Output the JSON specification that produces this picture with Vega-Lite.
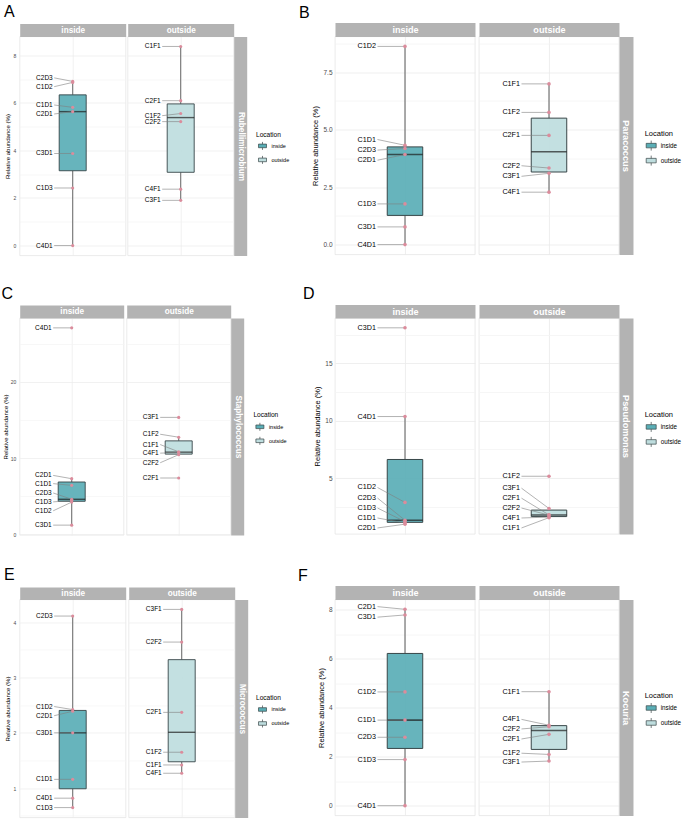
{
"$schema":"https://vega.github.io/schema/vega-lite/v6.json",
"background":"white",
"padding":{"left":0.7,"top":3.5,"right":0,"bottom":0},
"config":{
 "font":"Liberation Sans",
 "view":{"stroke":"#DDDDDD","strokeWidth":0.6},
 "axis":{"labelColor":"#4D4D4D","titleColor":"#000000","titleFontWeight":"normal","ticks":false,"domain":false},
 "legend":{"orient":"none","padding":0,"titleFontWeight":"normal","titleColor":"#000000","labelColor":"#000000","symbolStrokeColor":"#3A4648","symbolStrokeWidth":0.7,"symbolOpacity":1},
 "title":{"font":"Liberation Sans","color":"#000000","fontWeight":"normal","anchor":"start","frame":"group","baseline":"alphabetic","fontSize":16,"offset":4.5}
},
"datasets":{
 "A":[
  {"loc":"inside","s":"C2D3","v":6.90,"ly":7.05},
  {"loc":"inside","s":"C1D2","v":6.86,"ly":6.68},
  {"loc":"inside","s":"C1D1","v":5.81,"ly":5.91},
  {"loc":"inside","s":"C2D1","v":5.63,"ly":5.53},
  {"loc":"inside","s":"C3D1","v":3.87,"ly":3.87},
  {"loc":"inside","s":"C1D3","v":2.42,"ly":2.42},
  {"loc":"inside","s":"C4D1","v":0.0,"ly":0.0},
  {"loc":"outside","s":"C1F1","v":8.37,"ly":8.37},
  {"loc":"outside","s":"C2F1","v":6.09,"ly":6.09},
  {"loc":"outside","s":"C1F2","v":5.55,"ly":5.46},
  {"loc":"outside","s":"C2F2","v":5.21,"ly":5.21},
  {"loc":"outside","s":"C4F1","v":2.37,"ly":2.37},
  {"loc":"outside","s":"C3F1","v":1.90,"ly":1.90}
 ],
 "B":[
  {"loc":"inside","s":"C1D2","v":8.62,"ly":8.62},
  {"loc":"inside","s":"C1D1","v":4.32,"ly":4.57},
  {"loc":"inside","s":"C2D3","v":4.18,"ly":4.11},
  {"loc":"inside","s":"C2D1","v":3.92,"ly":3.67},
  {"loc":"inside","s":"C1D3","v":1.77,"ly":1.77},
  {"loc":"inside","s":"C3D1","v":0.77,"ly":0.77},
  {"loc":"inside","s":"C4D1","v":0.0,"ly":0.0},
  {"loc":"outside","s":"C1F1","v":6.99,"ly":6.99},
  {"loc":"outside","s":"C1F2","v":5.75,"ly":5.75},
  {"loc":"outside","s":"C2F1","v":4.75,"ly":4.75},
  {"loc":"outside","s":"C2F2","v":3.33,"ly":3.43},
  {"loc":"outside","s":"C3F1","v":3.10,"ly":2.97},
  {"loc":"outside","s":"C4F1","v":2.28,"ly":2.28}
 ],
 "C":[
  {"loc":"inside","s":"C4D1","v":27.08,"ly":27.08},
  {"loc":"inside","s":"C2D1","v":7.30,"ly":7.73},
  {"loc":"inside","s":"C1D1","v":6.43,"ly":6.65},
  {"loc":"inside","s":"C2D3","v":4.60,"ly":5.43},
  {"loc":"inside","s":"C1D3","v":4.45,"ly":4.26},
  {"loc":"inside","s":"C1D2","v":4.23,"ly":3.09},
  {"loc":"inside","s":"C3D1","v":1.21,"ly":1.21},
  {"loc":"outside","s":"C3F1","v":15.34,"ly":15.34},
  {"loc":"outside","s":"C1F2","v":12.74,"ly":13.13},
  {"loc":"outside","s":"C1F1","v":10.82,"ly":11.78},
  {"loc":"outside","s":"C4F1","v":10.74,"ly":10.65},
  {"loc":"outside","s":"C2F2","v":10.45,"ly":9.39},
  {"loc":"outside","s":"C2F1","v":7.39,"ly":7.39}
 ],
 "D":[
  {"loc":"inside","s":"C3D1","v":18.11,"ly":18.11},
  {"loc":"inside","s":"C4D1","v":10.37,"ly":10.37},
  {"loc":"inside","s":"C1D2","v":2.88,"ly":4.18},
  {"loc":"inside","s":"C2D3","v":1.32,"ly":3.26},
  {"loc":"inside","s":"C1D3","v":1.20,"ly":2.39},
  {"loc":"inside","s":"C1D1","v":1.08,"ly":1.52},
  {"loc":"inside","s":"C2D1","v":0.98,"ly":0.65},
  {"loc":"outside","s":"C1F2","v":5.16,"ly":5.16},
  {"loc":"outside","s":"C3F1","v":2.35,"ly":4.12},
  {"loc":"outside","s":"C2F1","v":1.79,"ly":3.25},
  {"loc":"outside","s":"C2F2","v":1.77,"ly":2.39},
  {"loc":"outside","s":"C4F1","v":1.60,"ly":1.52},
  {"loc":"outside","s":"C1F1","v":1.55,"ly":0.65}
 ],
 "E":[
  {"loc":"inside","s":"C2D3","v":4.11,"ly":4.11},
  {"loc":"inside","s":"C1D2","v":2.42,"ly":2.475},
  {"loc":"inside","s":"C2D1","v":2.39,"ly":2.31},
  {"loc":"inside","s":"C3D1","v":2.00,"ly":2.00},
  {"loc":"inside","s":"C1D1","v":1.16,"ly":1.16},
  {"loc":"inside","s":"C4D1","v":0.82,"ly":0.82},
  {"loc":"inside","s":"C1D3","v":0.65,"ly":0.65},
  {"loc":"outside","s":"C3F1","v":4.23,"ly":4.23},
  {"loc":"outside","s":"C2F2","v":3.64,"ly":3.64},
  {"loc":"outside","s":"C2F1","v":2.37,"ly":2.37},
  {"loc":"outside","s":"C1F2","v":1.65,"ly":1.65},
  {"loc":"outside","s":"C1F1","v":1.42,"ly":1.42},
  {"loc":"outside","s":"C4F1","v":1.27,"ly":1.27}
 ],
 "F":[
  {"loc":"inside","s":"C2D1","v":8.01,"ly":8.12},
  {"loc":"inside","s":"C3D1","v":7.78,"ly":7.69},
  {"loc":"inside","s":"C1D2","v":4.64,"ly":4.64},
  {"loc":"inside","s":"C1D1","v":3.49,"ly":3.49},
  {"loc":"inside","s":"C2D3","v":2.79,"ly":2.79},
  {"loc":"inside","s":"C1D3","v":1.88,"ly":1.88},
  {"loc":"inside","s":"C4D1","v":0.0,"ly":0.0},
  {"loc":"outside","s":"C1F1","v":4.65,"ly":4.65},
  {"loc":"outside","s":"C4F1","v":3.28,"ly":3.52},
  {"loc":"outside","s":"C2F2","v":3.22,"ly":3.13},
  {"loc":"outside","s":"C2F1","v":2.91,"ly":2.72},
  {"loc":"outside","s":"C1F2","v":2.09,"ly":2.14},
  {"loc":"outside","s":"C3F1","v":1.82,"ly":1.78}
 ]
},
"spacing":28.5,
"resolve":{"scale":{"color":"independent"},"legend":{"color":"independent"}},
"vconcat":[
{"hconcat":[
 {"title":{"text":"A","dx":-15.7},"bounds":"flush","spacing":2,
  "hconcat":[
   {"width":106,"height":219,"data":{"name":"A"},"transform":[{"filter":"datum.loc === 'inside'"}],
    "resolve":{"axis":{"x":"independent","y":"independent"}},
    "layer":[
     {"mark":{"type":"boxplot","extent":1.5,"size":27,"outliers":false,"ticks":false,"box":{"stroke":"#374547","strokeWidth":0.9,"fillOpacity":0.92},"median":{"color":"#1E1E1E","thickness":1.4},"rule":{"color":"#5A5A5A","strokeWidth":0.9}},
      "encoding":{
       "x":{"field":"loc","type":"nominal","scale":{"type":"band","paddingInner":0,"paddingOuter":0},"axis":null},
       "y":{"field":"v","type":"quantitative","scale":{"domain":[-0.4185,8.7885],"nice":false,"zero":false},"axis":{"orient":"left","title":"Relative abundance (%)","titleFontSize":6.1,"titlePadding":2,"labelFontSize":5,"labelPadding":4,"grid":true,"gridWidth":0.7,"gridColor":{"condition":{"test":"datum.value % 2 !== 0","value":"#F4F4F4"},"value":"#EBEBEB"},"values":[0,1,2,3,4,5,6,7,8],"labelExpr":"datum.value % 2 === 0 ? datum.label : ''"}},
       "color":{"field":"loc","type":"nominal","scale":{"domain":["inside","outside"],"range":["#5AAEB6","#BEDDDE"]},"legend":{"title":"Location","orient":"none","legendX":236.3,"legendY":95,"titleFontSize":6.6,"labelFontSize":5.5,"symbolType":"M-1,-0.45H1V0.45H-1Z M0,-1V-0.45 M0,0.45V1","symbolSize":64,"titlePadding":3.3,"rowPadding":3,"labelOffset":4.5,"symbolOffset":2}}
      }},
     {"mark":{"type":"rule","x2Offset":-18.5,"color":"#808080","strokeWidth":0.6},"encoding":{"x":{"field":"loc","type":"nominal","axis":null},"x2":{"field":"loc"},"y":{"field":"v","type":"quantitative","axis":null},"y2":{"field":"ly"}}},
     {"mark":{"type":"circle","color":"#DB8C9C","size":10,"opacity":1},"encoding":{"x":{"field":"loc","type":"nominal","axis":{"orient":"top","title":"inside","titleX":53,"titleY":0,"titleBaseline":"middle","titleAlign":"center","titleColor":"#FFFFFF","titleFontWeight":"bold","titleFontSize":8.2,"labels":false,"domain":true,"domainColor":"#B3B3B3","domainWidth":13,"offset":6.5,"tickSize":0,"grid":true,"gridColor":"#EBEBEB","gridWidth":0.7,"bandPosition":0.5}},"y":{"field":"v","type":"quantitative","axis":null}}},
     {"mark":{"type":"text","align":"right","baseline":"middle","dx":-20,"fontSize":6.5,"color":"#000000"},"encoding":{"x":{"field":"loc","type":"nominal","axis":null},"y":{"field":"ly","type":"quantitative","axis":null},"text":{"field":"s","type":"nominal"}}}
    ]},
   {"width":106,"height":219,"data":{"name":"A"},"transform":[{"filter":"datum.loc === 'outside'"}],
    "resolve":{"axis":{"x":"independent","y":"independent"}},
    "layer":[
     {"mark":{"type":"boxplot","extent":1.5,"size":27,"outliers":false,"ticks":false,"box":{"stroke":"#374547","strokeWidth":0.9,"fillOpacity":0.92},"median":{"color":"#1E1E1E","thickness":1.4},"rule":{"color":"#5A5A5A","strokeWidth":0.9}},
      "encoding":{
       "x":{"field":"loc","type":"nominal","scale":{"type":"band","paddingInner":0,"paddingOuter":0},"axis":null},
       "y":{"field":"v","type":"quantitative","scale":{"domain":[-0.4185,8.7885],"nice":false,"zero":false},"axis":{"orient":"left","title":null,"labels":false,"grid":true,"gridWidth":0.7,"gridColor":{"condition":{"test":"datum.value % 2 !== 0","value":"#F4F4F4"},"value":"#EBEBEB"},"values":[0,1,2,3,4,5,6,7,8]}},
       "color":{"field":"loc","type":"nominal","scale":{"domain":["inside","outside"],"range":["#5AAEB6","#BEDDDE"]},"legend":{"title":"Location","orient":"none","legendX":236.3,"legendY":95,"titleFontSize":6.6,"labelFontSize":5.5,"symbolType":"M-1,-0.45H1V0.45H-1Z M0,-1V-0.45 M0,0.45V1","symbolSize":64,"titlePadding":3.3,"rowPadding":3,"labelOffset":4.5,"symbolOffset":2}}
      }},
     {"mark":{"type":"rule","x2Offset":-18.5,"color":"#808080","strokeWidth":0.6},"encoding":{"x":{"field":"loc","type":"nominal","axis":null},"x2":{"field":"loc"},"y":{"field":"v","type":"quantitative","axis":null},"y2":{"field":"ly"}}},
     {"mark":{"type":"circle","color":"#DB8C9C","size":10,"opacity":1},"encoding":{"x":{"field":"loc","type":"nominal","axis":{"orient":"top","title":"outside","titleX":53,"titleY":0,"titleBaseline":"middle","titleAlign":"center","titleColor":"#FFFFFF","titleFontWeight":"bold","titleFontSize":8.2,"labels":false,"domain":true,"domainColor":"#B3B3B3","domainWidth":13,"offset":6.5,"tickSize":0,"grid":true,"gridColor":"#EBEBEB","gridWidth":0.7,"bandPosition":0.5}},"y":{"field":"v","type":"quantitative","axis":{"orient":"right","title":"Rubellimicrobium","titleAngle":90,"titleColor":"#FFFFFF","titleFontWeight":"bold","titleFontSize":8.2,"titleBaseline":"middle","titleAlign":"center","titleX":0,"titleY":109.5,"domain":true,"domainColor":"#B3B3B3","domainWidth":13,"offset":6.5,"labels":false,"grid":false}}}},
     {"mark":{"type":"text","align":"right","baseline":"middle","dx":-20,"fontSize":6.5,"color":"#000000"},"encoding":{"x":{"field":"loc","type":"nominal","axis":null},"y":{"field":"ly","type":"quantitative","axis":null},"text":{"field":"s","type":"nominal"}}}
    ]}
  ]},
 {"title":{"text":"B","dx":-36},"bounds":"flush","spacing":4,
  "hconcat":[
   {"width":140,"height":218,"data":{"name":"B"},"transform":[{"filter":"datum.loc === 'inside'"}],
    "resolve":{"axis":{"x":"independent","y":"independent"}},
    "layer":[
     {"mark":{"type":"boxplot","extent":1.5,"size":35.5,"outliers":false,"ticks":false,"box":{"stroke":"#374547","strokeWidth":1,"fillOpacity":0.92},"median":{"color":"#1E1E1E","thickness":1.6},"rule":{"color":"#5A5A5A","strokeWidth":1}},
      "encoding":{
       "x":{"field":"loc","type":"nominal","scale":{"type":"band","paddingInner":0,"paddingOuter":0},"axis":null},
       "y":{"field":"v","type":"quantitative","scale":{"domain":[-0.431,9.051],"nice":false,"zero":false},"axis":{"orient":"left","title":"Relative abundance (%)","titleFontSize":7.5,"titlePadding":3,"labelFontSize":6.5,"labelPadding":3,"format":".1f","grid":true,"gridWidth":0.8,"gridColor":{"condition":{"test":"datum.value % 2.5 !== 0","value":"#F4F4F4"},"value":"#EBEBEB"},"values":[0,1.25,2.5,3.75,5,6.25,7.5,8.75],"labelExpr":"datum.value % 2.5 === 0 ? datum.label : ''"}},
       "color":{"field":"loc","type":"nominal","scale":{"domain":["inside","outside"],"range":["#5AAEB6","#BEDDDE"]},"legend":{"title":"Location","orient":"none","legendX":309.7,"legendY":93,"titleFontSize":7.5,"labelFontSize":6.3,"symbolType":"M-1,-0.45H1V0.45H-1Z M0,-1V-0.45 M0,0.45V1","symbolSize":100,"titlePadding":3.1,"rowPadding":2,"labelOffset":4,"symbolOffset":1}}
      }},
     {"mark":{"type":"rule","x2Offset":-27.5,"color":"#808080","strokeWidth":0.6},"encoding":{"x":{"field":"loc","type":"nominal","axis":null},"x2":{"field":"loc"},"y":{"field":"v","type":"quantitative","axis":null},"y2":{"field":"ly"}}},
     {"mark":{"type":"circle","color":"#DB8C9C","size":13,"opacity":1},"encoding":{"x":{"field":"loc","type":"nominal","axis":{"orient":"top","title":"inside","titleX":70,"titleY":0,"titleBaseline":"middle","titleAlign":"center","titleColor":"#FFFFFF","titleFontWeight":"bold","titleFontSize":9.1,"labels":false,"domain":true,"domainColor":"#B3B3B3","domainWidth":14,"offset":7,"tickSize":0,"grid":true,"gridColor":"#EBEBEB","gridWidth":0.8,"bandPosition":0.5}},"y":{"field":"v","type":"quantitative","axis":null}}},
     {"mark":{"type":"text","align":"right","baseline":"middle","dx":-29,"fontSize":7.2,"color":"#000000"},"encoding":{"x":{"field":"loc","type":"nominal","axis":null},"y":{"field":"ly","type":"quantitative","axis":null},"text":{"field":"s","type":"nominal"}}}
    ]},
   {"width":140,"height":218,"data":{"name":"B"},"transform":[{"filter":"datum.loc === 'outside'"}],
    "resolve":{"axis":{"x":"independent","y":"independent"}},
    "layer":[
     {"mark":{"type":"boxplot","extent":1.5,"size":35.5,"outliers":false,"ticks":false,"box":{"stroke":"#374547","strokeWidth":1,"fillOpacity":0.92},"median":{"color":"#1E1E1E","thickness":1.6},"rule":{"color":"#5A5A5A","strokeWidth":1}},
      "encoding":{
       "x":{"field":"loc","type":"nominal","scale":{"type":"band","paddingInner":0,"paddingOuter":0},"axis":null},
       "y":{"field":"v","type":"quantitative","scale":{"domain":[-0.431,9.051],"nice":false,"zero":false},"axis":{"orient":"left","title":null,"labels":false,"grid":true,"gridWidth":0.8,"gridColor":{"condition":{"test":"datum.value % 2.5 !== 0","value":"#F4F4F4"},"value":"#EBEBEB"},"values":[0,1.25,2.5,3.75,5,6.25,7.5,8.75]}},
       "color":{"field":"loc","type":"nominal","scale":{"domain":["inside","outside"],"range":["#5AAEB6","#BEDDDE"]},"legend":{"title":"Location","orient":"none","legendX":309.7,"legendY":93,"titleFontSize":7.5,"labelFontSize":6.3,"symbolType":"M-1,-0.45H1V0.45H-1Z M0,-1V-0.45 M0,0.45V1","symbolSize":100,"titlePadding":3.1,"rowPadding":2,"labelOffset":4,"symbolOffset":1}}
      }},
     {"mark":{"type":"rule","x2Offset":-27.5,"color":"#808080","strokeWidth":0.6},"encoding":{"x":{"field":"loc","type":"nominal","axis":null},"x2":{"field":"loc"},"y":{"field":"v","type":"quantitative","axis":null},"y2":{"field":"ly"}}},
     {"mark":{"type":"circle","color":"#DB8C9C","size":13,"opacity":1},"encoding":{"x":{"field":"loc","type":"nominal","axis":{"orient":"top","title":"outside","titleX":70,"titleY":0,"titleBaseline":"middle","titleAlign":"center","titleColor":"#FFFFFF","titleFontWeight":"bold","titleFontSize":9.1,"labels":false,"domain":true,"domainColor":"#B3B3B3","domainWidth":14,"offset":7,"tickSize":0,"grid":true,"gridColor":"#EBEBEB","gridWidth":0.8,"bandPosition":0.5}},"y":{"field":"v","type":"quantitative","axis":{"orient":"right","title":"Paracoccus","titleAngle":90,"titleColor":"#FFFFFF","titleFontWeight":"bold","titleFontSize":9.2,"titleBaseline":"middle","titleAlign":"center","titleX":0,"titleY":109,"domain":true,"domainColor":"#B3B3B3","domainWidth":14,"offset":7,"labels":false,"grid":false}}}},
     {"mark":{"type":"text","align":"right","baseline":"middle","dx":-29,"fontSize":7.2,"color":"#000000"},"encoding":{"x":{"field":"loc","type":"nominal","axis":null},"y":{"field":"ly","type":"quantitative","axis":null},"text":{"field":"s","type":"nominal"}}}
    ]}
  ]}
],"spacing":8.3,"resolve":{"scale":{"color":"independent"},"legend":{"color":"independent"}}},
{"hconcat":[
 {"title":{"text":"C","dx":-18.3},"bounds":"flush","spacing":3,
  "hconcat":[
   {"width":104,"height":217,"data":{"name":"C"},"transform":[{"filter":"datum.loc === 'inside'"}],
    "resolve":{"axis":{"x":"independent","y":"independent"}},
    "layer":[
     {"mark":{"type":"boxplot","extent":1.5,"size":27,"outliers":false,"ticks":false,"box":{"stroke":"#374547","strokeWidth":0.9,"fillOpacity":0.92},"median":{"color":"#1E1E1E","thickness":1.4},"rule":{"color":"#5A5A5A","strokeWidth":0.9}},
      "encoding":{
       "x":{"field":"loc","type":"nominal","scale":{"type":"band","paddingInner":0,"paddingOuter":0},"axis":null},
       "y":{"field":"v","type":"quantitative","scale":{"domain":[-0.0835,28.3735],"nice":false,"zero":false},"axis":{"orient":"left","title":"Relative abundance (%)","titleFontSize":6.1,"titlePadding":2,"labelFontSize":5,"labelPadding":4,"grid":true,"gridWidth":0.7,"gridColor":{"condition":{"test":"datum.value % 10 !== 0","value":"#F4F4F4"},"value":"#EBEBEB"},"values":[0,5,10,15,20,25],"labelExpr":"datum.value % 10 === 0 ? datum.label : ''"}},
       "color":{"field":"loc","type":"nominal","scale":{"domain":["inside","outside"],"range":["#5AAEB6","#BEDDDE"]},"legend":{"title":"Location","orient":"none","legendX":233.7,"legendY":94.4,"titleFontSize":6.6,"labelFontSize":5.5,"symbolType":"M-1,-0.45H1V0.45H-1Z M0,-1V-0.45 M0,0.45V1","symbolSize":64,"titlePadding":3.3,"rowPadding":3,"labelOffset":4.5,"symbolOffset":2}}
      }},
     {"mark":{"type":"rule","x2Offset":-18.5,"color":"#808080","strokeWidth":0.6},"encoding":{"x":{"field":"loc","type":"nominal","axis":null},"x2":{"field":"loc"},"y":{"field":"v","type":"quantitative","axis":null},"y2":{"field":"ly"}}},
     {"mark":{"type":"circle","color":"#DB8C9C","size":10,"opacity":1},"encoding":{"x":{"field":"loc","type":"nominal","axis":{"orient":"top","title":"inside","titleX":52,"titleY":0,"titleBaseline":"middle","titleAlign":"center","titleColor":"#FFFFFF","titleFontWeight":"bold","titleFontSize":8.2,"labels":false,"domain":true,"domainColor":"#B3B3B3","domainWidth":13,"offset":6.5,"tickSize":0,"grid":true,"gridColor":"#EBEBEB","gridWidth":0.7,"bandPosition":0.5}},"y":{"field":"v","type":"quantitative","axis":null}}},
     {"mark":{"type":"text","align":"right","baseline":"middle","dx":-20,"fontSize":6.5,"color":"#000000"},"encoding":{"x":{"field":"loc","type":"nominal","axis":null},"y":{"field":"ly","type":"quantitative","axis":null},"text":{"field":"s","type":"nominal"}}}
    ]},
   {"width":104,"height":217,"data":{"name":"C"},"transform":[{"filter":"datum.loc === 'outside'"}],
    "resolve":{"axis":{"x":"independent","y":"independent"}},
    "layer":[
     {"mark":{"type":"boxplot","extent":1.5,"size":27,"outliers":false,"ticks":false,"box":{"stroke":"#374547","strokeWidth":0.9,"fillOpacity":0.92},"median":{"color":"#1E1E1E","thickness":1.4},"rule":{"color":"#5A5A5A","strokeWidth":0.9}},
      "encoding":{
       "x":{"field":"loc","type":"nominal","scale":{"type":"band","paddingInner":0,"paddingOuter":0},"axis":null},
       "y":{"field":"v","type":"quantitative","scale":{"domain":[-0.0835,28.3735],"nice":false,"zero":false},"axis":{"orient":"left","title":null,"labels":false,"grid":true,"gridWidth":0.7,"gridColor":{"condition":{"test":"datum.value % 10 !== 0","value":"#F4F4F4"},"value":"#EBEBEB"},"values":[0,5,10,15,20,25]}},
       "color":{"field":"loc","type":"nominal","scale":{"domain":["inside","outside"],"range":["#5AAEB6","#BEDDDE"]},"legend":{"title":"Location","orient":"none","legendX":233.7,"legendY":94.4,"titleFontSize":6.6,"labelFontSize":5.5,"symbolType":"M-1,-0.45H1V0.45H-1Z M0,-1V-0.45 M0,0.45V1","symbolSize":64,"titlePadding":3.3,"rowPadding":3,"labelOffset":4.5,"symbolOffset":2}}
      }},
     {"mark":{"type":"rule","x2Offset":-18.5,"color":"#808080","strokeWidth":0.6},"encoding":{"x":{"field":"loc","type":"nominal","axis":null},"x2":{"field":"loc"},"y":{"field":"v","type":"quantitative","axis":null},"y2":{"field":"ly"}}},
     {"mark":{"type":"circle","color":"#DB8C9C","size":10,"opacity":1},"encoding":{"x":{"field":"loc","type":"nominal","axis":{"orient":"top","title":"outside","titleX":52,"titleY":0,"titleBaseline":"middle","titleAlign":"center","titleColor":"#FFFFFF","titleFontWeight":"bold","titleFontSize":8.2,"labels":false,"domain":true,"domainColor":"#B3B3B3","domainWidth":13,"offset":6.5,"tickSize":0,"grid":true,"gridColor":"#EBEBEB","gridWidth":0.7,"bandPosition":0.5}},"y":{"field":"v","type":"quantitative","axis":{"orient":"right","title":"Staphylococcus","titleAngle":90,"titleColor":"#FFFFFF","titleFontWeight":"bold","titleFontSize":8.2,"titleBaseline":"middle","titleAlign":"center","titleX":0,"titleY":108.5,"domain":true,"domainColor":"#B3B3B3","domainWidth":13,"offset":6.5,"labels":false,"grid":false}}}},
     {"mark":{"type":"text","align":"right","baseline":"middle","dx":-20,"fontSize":6.5,"color":"#000000"},"encoding":{"x":{"field":"loc","type":"nominal","axis":null},"y":{"field":"ly","type":"quantitative","axis":null},"text":{"field":"s","type":"nominal"}}}
    ]}
  ]},
 {"title":{"text":"D","dx":-32},"bounds":"flush","spacing":4,
  "hconcat":[
   {"width":140,"height":216,"data":{"name":"D"},"transform":[{"filter":"datum.loc === 'inside'"}],
    "resolve":{"axis":{"x":"independent","y":"independent"}},
    "layer":[
     {"mark":{"type":"boxplot","extent":1.5,"size":35.5,"outliers":false,"ticks":false,"box":{"stroke":"#374547","strokeWidth":1,"fillOpacity":0.92},"median":{"color":"#1E1E1E","thickness":1.6},"rule":{"color":"#5A5A5A","strokeWidth":1}},
      "encoding":{
       "x":{"field":"loc","type":"nominal","scale":{"type":"band","paddingInner":0,"paddingOuter":0},"axis":null},
       "y":{"field":"v","type":"quantitative","scale":{"domain":[0.1235,18.9665],"nice":false,"zero":false},"axis":{"orient":"left","title":"Relative abundance (%)","titleFontSize":7.5,"titlePadding":3,"labelFontSize":6.5,"labelPadding":3,"grid":true,"gridWidth":0.8,"gridColor":{"condition":{"test":"datum.value % 5 !== 0","value":"#F4F4F4"},"value":"#EBEBEB"},"values":[2.5,5,7.5,10,12.5,15,17.5],"labelExpr":"datum.value % 5 === 0 ? datum.label : ''"}},
       "color":{"field":"loc","type":"nominal","scale":{"domain":["inside","outside"],"range":["#5AAEB6","#BEDDDE"]},"legend":{"title":"Location","orient":"none","legendX":309.7,"legendY":92.8,"titleFontSize":7.5,"labelFontSize":6.3,"symbolType":"M-1,-0.45H1V0.45H-1Z M0,-1V-0.45 M0,0.45V1","symbolSize":100,"titlePadding":3.1,"rowPadding":2,"labelOffset":4,"symbolOffset":1}}
      }},
     {"mark":{"type":"rule","x2Offset":-27.5,"color":"#808080","strokeWidth":0.6},"encoding":{"x":{"field":"loc","type":"nominal","axis":null},"x2":{"field":"loc"},"y":{"field":"v","type":"quantitative","axis":null},"y2":{"field":"ly"}}},
     {"mark":{"type":"circle","color":"#DB8C9C","size":13,"opacity":1},"encoding":{"x":{"field":"loc","type":"nominal","axis":{"orient":"top","title":"inside","titleX":70,"titleY":0,"titleBaseline":"middle","titleAlign":"center","titleColor":"#FFFFFF","titleFontWeight":"bold","titleFontSize":9.1,"labels":false,"domain":true,"domainColor":"#B3B3B3","domainWidth":13.5,"offset":6.75,"tickSize":0,"grid":true,"gridColor":"#EBEBEB","gridWidth":0.8,"bandPosition":0.5}},"y":{"field":"v","type":"quantitative","axis":null}}},
     {"mark":{"type":"text","align":"right","baseline":"middle","dx":-29,"fontSize":7.2,"color":"#000000"},"encoding":{"x":{"field":"loc","type":"nominal","axis":null},"y":{"field":"ly","type":"quantitative","axis":null},"text":{"field":"s","type":"nominal"}}}
    ]},
   {"width":140,"height":216,"data":{"name":"D"},"transform":[{"filter":"datum.loc === 'outside'"}],
    "resolve":{"axis":{"x":"independent","y":"independent"}},
    "layer":[
     {"mark":{"type":"boxplot","extent":1.5,"size":35.5,"outliers":false,"ticks":false,"box":{"stroke":"#374547","strokeWidth":1,"fillOpacity":0.92},"median":{"color":"#1E1E1E","thickness":1.6},"rule":{"color":"#5A5A5A","strokeWidth":1}},
      "encoding":{
       "x":{"field":"loc","type":"nominal","scale":{"type":"band","paddingInner":0,"paddingOuter":0},"axis":null},
       "y":{"field":"v","type":"quantitative","scale":{"domain":[0.1235,18.9665],"nice":false,"zero":false},"axis":{"orient":"left","title":null,"labels":false,"grid":true,"gridWidth":0.8,"gridColor":{"condition":{"test":"datum.value % 5 !== 0","value":"#F4F4F4"},"value":"#EBEBEB"},"values":[2.5,5,7.5,10,12.5,15,17.5]}},
       "color":{"field":"loc","type":"nominal","scale":{"domain":["inside","outside"],"range":["#5AAEB6","#BEDDDE"]},"legend":{"title":"Location","orient":"none","legendX":309.7,"legendY":92.8,"titleFontSize":7.5,"labelFontSize":6.3,"symbolType":"M-1,-0.45H1V0.45H-1Z M0,-1V-0.45 M0,0.45V1","symbolSize":100,"titlePadding":3.1,"rowPadding":2,"labelOffset":4,"symbolOffset":1}}
      }},
     {"mark":{"type":"rule","x2Offset":-27.5,"color":"#808080","strokeWidth":0.6},"encoding":{"x":{"field":"loc","type":"nominal","axis":null},"x2":{"field":"loc"},"y":{"field":"v","type":"quantitative","axis":null},"y2":{"field":"ly"}}},
     {"mark":{"type":"circle","color":"#DB8C9C","size":13,"opacity":1},"encoding":{"x":{"field":"loc","type":"nominal","axis":{"orient":"top","title":"outside","titleX":70,"titleY":0,"titleBaseline":"middle","titleAlign":"center","titleColor":"#FFFFFF","titleFontWeight":"bold","titleFontSize":9.1,"labels":false,"domain":true,"domainColor":"#B3B3B3","domainWidth":13.5,"offset":6.75,"tickSize":0,"grid":true,"gridColor":"#EBEBEB","gridWidth":0.8,"bandPosition":0.5}},"y":{"field":"v","type":"quantitative","axis":{"orient":"right","title":"Pseudomonas","titleAngle":90,"titleColor":"#FFFFFF","titleFontWeight":"bold","titleFontSize":9.2,"titleBaseline":"middle","titleAlign":"center","titleX":0,"titleY":108,"domain":true,"domainColor":"#B3B3B3","domainWidth":14,"offset":7,"labels":false,"grid":false}}}},
     {"mark":{"type":"text","align":"right","baseline":"middle","dx":-29,"fontSize":7.2,"color":"#000000"},"encoding":{"x":{"field":"loc","type":"nominal","axis":null},"y":{"field":"ly","type":"quantitative","axis":null},"text":{"field":"s","type":"nominal"}}}
    ]}
  ]}
],"spacing":15.3,"resolve":{"scale":{"color":"independent"},"legend":{"color":"independent"}}},
{"hconcat":[
 {"title":{"text":"E","dx":-15.7},"bounds":"flush","spacing":3,
  "hconcat":[
   {"width":106,"height":218,"data":{"name":"E"},"transform":[{"filter":"datum.loc === 'inside'"}],
    "resolve":{"axis":{"x":"independent","y":"independent"}},
    "layer":[
     {"mark":{"type":"boxplot","extent":1.5,"size":27,"outliers":false,"ticks":false,"box":{"stroke":"#374547","strokeWidth":0.9,"fillOpacity":0.92},"median":{"color":"#1E1E1E","thickness":1.4},"rule":{"color":"#5A5A5A","strokeWidth":0.9}},
      "encoding":{
       "x":{"field":"loc","type":"nominal","scale":{"type":"band","paddingInner":0,"paddingOuter":0},"axis":null},
       "y":{"field":"v","type":"quantitative","scale":{"domain":[0.471,4.409],"nice":false,"zero":false},"axis":{"orient":"left","title":"Relative abundance (%)","titleFontSize":6.1,"titlePadding":2,"labelFontSize":5,"labelPadding":4,"format":".0f","grid":true,"gridWidth":0.7,"gridColor":{"condition":{"test":"datum.value % 1 !== 0","value":"#F4F4F4"},"value":"#EBEBEB"},"values":[0.5,1,1.5,2,2.5,3,3.5,4],"labelExpr":"datum.value % 1 === 0 ? datum.label : ''"}},
       "color":{"field":"loc","type":"nominal","scale":{"domain":["inside","outside"],"range":["#5AAEB6","#BEDDDE"]},"legend":{"title":"Location","orient":"none","legendX":236.3,"legendY":95.6,"titleFontSize":6.6,"labelFontSize":5.5,"symbolType":"M-1,-0.45H1V0.45H-1Z M0,-1V-0.45 M0,0.45V1","symbolSize":64,"titlePadding":3.3,"rowPadding":3,"labelOffset":4.5,"symbolOffset":2}}
      }},
     {"mark":{"type":"rule","x2Offset":-18.5,"color":"#808080","strokeWidth":0.6},"encoding":{"x":{"field":"loc","type":"nominal","axis":null},"x2":{"field":"loc"},"y":{"field":"v","type":"quantitative","axis":null},"y2":{"field":"ly"}}},
     {"mark":{"type":"circle","color":"#DB8C9C","size":10,"opacity":1},"encoding":{"x":{"field":"loc","type":"nominal","axis":{"orient":"top","title":"inside","titleX":53,"titleY":0,"titleBaseline":"middle","titleAlign":"center","titleColor":"#FFFFFF","titleFontWeight":"bold","titleFontSize":8.2,"labels":false,"domain":true,"domainColor":"#B3B3B3","domainWidth":12.5,"offset":6.25,"tickSize":0,"grid":true,"gridColor":"#EBEBEB","gridWidth":0.7,"bandPosition":0.5}},"y":{"field":"v","type":"quantitative","axis":null}}},
     {"mark":{"type":"text","align":"right","baseline":"middle","dx":-20,"fontSize":6.5,"color":"#000000"},"encoding":{"x":{"field":"loc","type":"nominal","axis":null},"y":{"field":"ly","type":"quantitative","axis":null},"text":{"field":"s","type":"nominal"}}}
    ]},
   {"width":106,"height":218,"data":{"name":"E"},"transform":[{"filter":"datum.loc === 'outside'"}],
    "resolve":{"axis":{"x":"independent","y":"independent"}},
    "layer":[
     {"mark":{"type":"boxplot","extent":1.5,"size":27,"outliers":false,"ticks":false,"box":{"stroke":"#374547","strokeWidth":0.9,"fillOpacity":0.92},"median":{"color":"#1E1E1E","thickness":1.4},"rule":{"color":"#5A5A5A","strokeWidth":0.9}},
      "encoding":{
       "x":{"field":"loc","type":"nominal","scale":{"type":"band","paddingInner":0,"paddingOuter":0},"axis":null},
       "y":{"field":"v","type":"quantitative","scale":{"domain":[0.471,4.409],"nice":false,"zero":false},"axis":{"orient":"left","title":null,"labels":false,"grid":true,"gridWidth":0.7,"gridColor":{"condition":{"test":"datum.value % 1 !== 0","value":"#F4F4F4"},"value":"#EBEBEB"},"values":[0.5,1,1.5,2,2.5,3,3.5,4]}},
       "color":{"field":"loc","type":"nominal","scale":{"domain":["inside","outside"],"range":["#5AAEB6","#BEDDDE"]},"legend":{"title":"Location","orient":"none","legendX":236.3,"legendY":95.6,"titleFontSize":6.6,"labelFontSize":5.5,"symbolType":"M-1,-0.45H1V0.45H-1Z M0,-1V-0.45 M0,0.45V1","symbolSize":64,"titlePadding":3.3,"rowPadding":3,"labelOffset":4.5,"symbolOffset":2}}
      }},
     {"mark":{"type":"rule","x2Offset":-18.5,"color":"#808080","strokeWidth":0.6},"encoding":{"x":{"field":"loc","type":"nominal","axis":null},"x2":{"field":"loc"},"y":{"field":"v","type":"quantitative","axis":null},"y2":{"field":"ly"}}},
     {"mark":{"type":"circle","color":"#DB8C9C","size":10,"opacity":1},"encoding":{"x":{"field":"loc","type":"nominal","axis":{"orient":"top","title":"outside","titleX":53,"titleY":0,"titleBaseline":"middle","titleAlign":"center","titleColor":"#FFFFFF","titleFontWeight":"bold","titleFontSize":8.2,"labels":false,"domain":true,"domainColor":"#B3B3B3","domainWidth":12.5,"offset":6.25,"tickSize":0,"grid":true,"gridColor":"#EBEBEB","gridWidth":0.7,"bandPosition":0.5}},"y":{"field":"v","type":"quantitative","axis":{"orient":"right","title":"Micrococcus","titleAngle":90,"titleColor":"#FFFFFF","titleFontWeight":"bold","titleFontSize":8.2,"titleBaseline":"middle","titleAlign":"center","titleX":0,"titleY":109,"domain":true,"domainColor":"#B3B3B3","domainWidth":13,"offset":6.5,"labels":false,"grid":false}}}},
     {"mark":{"type":"text","align":"right","baseline":"middle","dx":-20,"fontSize":6.5,"color":"#000000"},"encoding":{"x":{"field":"loc","type":"nominal","axis":null},"y":{"field":"ly","type":"quantitative","axis":null},"text":{"field":"s","type":"nominal"}}}
    ]}
  ]},
 {"title":{"text":"F","dx":-37},"bounds":"flush","spacing":4,
  "hconcat":[
   {"width":140,"height":216,"data":{"name":"F"},"transform":[{"filter":"datum.loc === 'inside'"}],
    "resolve":{"axis":{"x":"independent","y":"independent"}},
    "layer":[
     {"mark":{"type":"boxplot","extent":1.5,"size":35.5,"outliers":false,"ticks":false,"box":{"stroke":"#374547","strokeWidth":1,"fillOpacity":0.92},"median":{"color":"#1E1E1E","thickness":1.6},"rule":{"color":"#5A5A5A","strokeWidth":1}},
      "encoding":{
       "x":{"field":"loc","type":"nominal","scale":{"type":"band","paddingInner":0,"paddingOuter":0},"axis":null},
       "y":{"field":"v","type":"quantitative","scale":{"domain":[-0.4005,8.4105],"nice":false,"zero":false},"axis":{"orient":"left","title":"Relative abundance (%)","titleFontSize":7.5,"titlePadding":3,"labelFontSize":6.5,"labelPadding":3,"grid":true,"gridWidth":0.8,"gridColor":{"condition":{"test":"datum.value % 2 !== 0","value":"#F4F4F4"},"value":"#EBEBEB"},"values":[0,1,2,3,4,5,6,7,8],"labelExpr":"datum.value % 2 === 0 ? datum.label : ''"}},
       "color":{"field":"loc","type":"nominal","scale":{"domain":["inside","outside"],"range":["#5AAEB6","#BEDDDE"]},"legend":{"title":"Location","orient":"none","legendX":309.7,"legendY":92.4,"titleFontSize":7.5,"labelFontSize":6.3,"symbolType":"M-1,-0.45H1V0.45H-1Z M0,-1V-0.45 M0,0.45V1","symbolSize":100,"titlePadding":3.1,"rowPadding":2,"labelOffset":4,"symbolOffset":1}}
      }},
     {"mark":{"type":"rule","x2Offset":-27.5,"color":"#808080","strokeWidth":0.6},"encoding":{"x":{"field":"loc","type":"nominal","axis":null},"x2":{"field":"loc"},"y":{"field":"v","type":"quantitative","axis":null},"y2":{"field":"ly"}}},
     {"mark":{"type":"circle","color":"#DB8C9C","size":13,"opacity":1},"encoding":{"x":{"field":"loc","type":"nominal","axis":{"orient":"top","title":"inside","titleX":70,"titleY":0,"titleBaseline":"middle","titleAlign":"center","titleColor":"#FFFFFF","titleFontWeight":"bold","titleFontSize":9.1,"labels":false,"domain":true,"domainColor":"#B3B3B3","domainWidth":14,"offset":7,"tickSize":0,"grid":true,"gridColor":"#EBEBEB","gridWidth":0.8,"bandPosition":0.5}},"y":{"field":"v","type":"quantitative","axis":null}}},
     {"mark":{"type":"text","align":"right","baseline":"middle","dx":-29,"fontSize":7.2,"color":"#000000"},"encoding":{"x":{"field":"loc","type":"nominal","axis":null},"y":{"field":"ly","type":"quantitative","axis":null},"text":{"field":"s","type":"nominal"}}}
    ]},
   {"width":140,"height":216,"data":{"name":"F"},"transform":[{"filter":"datum.loc === 'outside'"}],
    "resolve":{"axis":{"x":"independent","y":"independent"}},
    "layer":[
     {"mark":{"type":"boxplot","extent":1.5,"size":35.5,"outliers":false,"ticks":false,"box":{"stroke":"#374547","strokeWidth":1,"fillOpacity":0.92},"median":{"color":"#1E1E1E","thickness":1.6},"rule":{"color":"#5A5A5A","strokeWidth":1}},
      "encoding":{
       "x":{"field":"loc","type":"nominal","scale":{"type":"band","paddingInner":0,"paddingOuter":0},"axis":null},
       "y":{"field":"v","type":"quantitative","scale":{"domain":[-0.4005,8.4105],"nice":false,"zero":false},"axis":{"orient":"left","title":null,"labels":false,"grid":true,"gridWidth":0.8,"gridColor":{"condition":{"test":"datum.value % 2 !== 0","value":"#F4F4F4"},"value":"#EBEBEB"},"values":[0,1,2,3,4,5,6,7,8]}},
       "color":{"field":"loc","type":"nominal","scale":{"domain":["inside","outside"],"range":["#5AAEB6","#BEDDDE"]},"legend":{"title":"Location","orient":"none","legendX":309.7,"legendY":92.4,"titleFontSize":7.5,"labelFontSize":6.3,"symbolType":"M-1,-0.45H1V0.45H-1Z M0,-1V-0.45 M0,0.45V1","symbolSize":100,"titlePadding":3.1,"rowPadding":2,"labelOffset":4,"symbolOffset":1}}
      }},
     {"mark":{"type":"rule","x2Offset":-27.5,"color":"#808080","strokeWidth":0.6},"encoding":{"x":{"field":"loc","type":"nominal","axis":null},"x2":{"field":"loc"},"y":{"field":"v","type":"quantitative","axis":null},"y2":{"field":"ly"}}},
     {"mark":{"type":"circle","color":"#DB8C9C","size":13,"opacity":1},"encoding":{"x":{"field":"loc","type":"nominal","axis":{"orient":"top","title":"outside","titleX":70,"titleY":0,"titleBaseline":"middle","titleAlign":"center","titleColor":"#FFFFFF","titleFontWeight":"bold","titleFontSize":9.1,"labels":false,"domain":true,"domainColor":"#B3B3B3","domainWidth":14,"offset":7,"tickSize":0,"grid":true,"gridColor":"#EBEBEB","gridWidth":0.8,"bandPosition":0.5}},"y":{"field":"v","type":"quantitative","axis":{"orient":"right","title":"Kocuria","titleAngle":90,"titleColor":"#FFFFFF","titleFontWeight":"bold","titleFontSize":9.2,"titleBaseline":"middle","titleAlign":"center","titleX":0,"titleY":108,"domain":true,"domainColor":"#B3B3B3","domainWidth":14,"offset":7,"labels":false,"grid":false}}}},
     {"mark":{"type":"text","align":"right","baseline":"middle","dx":-29,"fontSize":7.2,"color":"#000000"},"encoding":{"x":{"field":"loc","type":"nominal","axis":null},"y":{"field":"ly","type":"quantitative","axis":null},"text":{"field":"s","type":"nominal"}}}
    ]}
  ]}
],"spacing":7.3,"resolve":{"scale":{"color":"independent"},"legend":{"color":"independent"}}}
]
}
